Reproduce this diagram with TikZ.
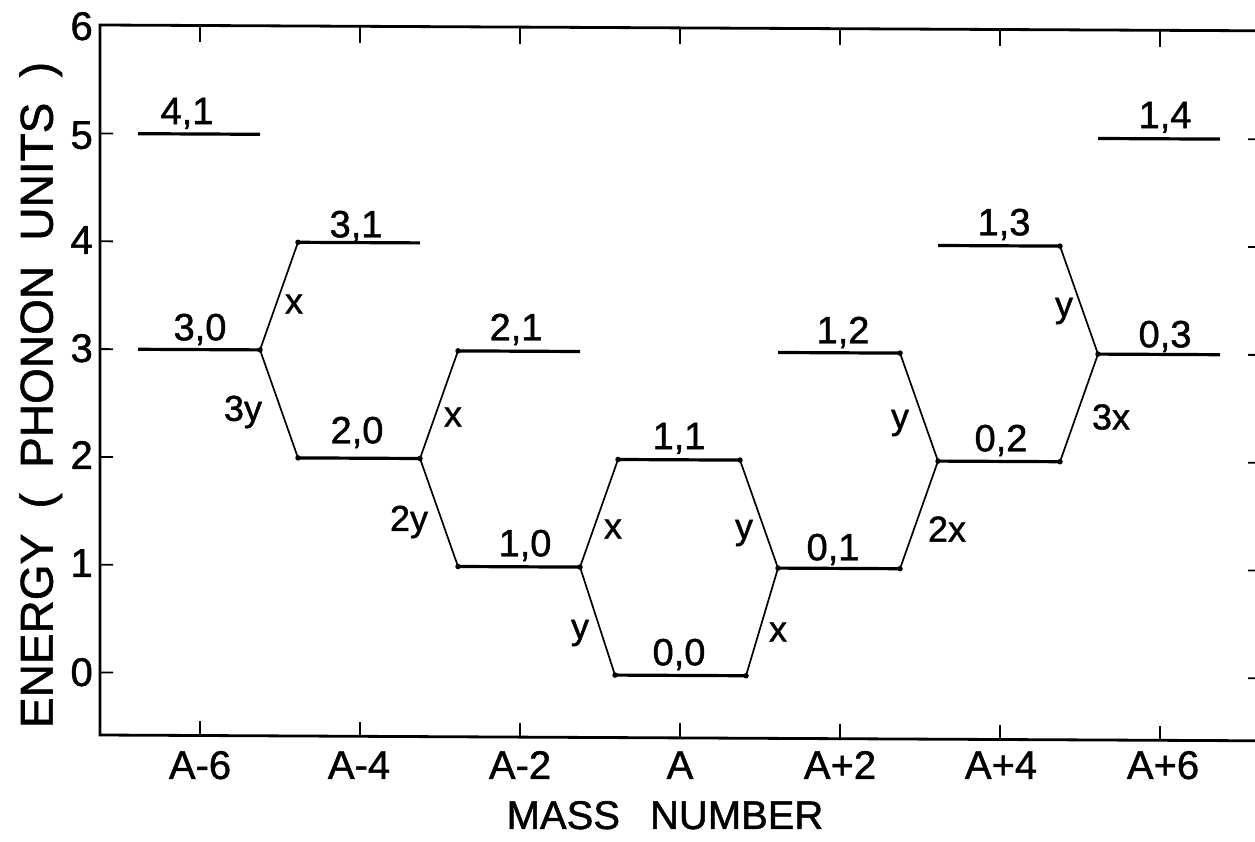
\documentclass[tikz,border=0pt]{standalone}
\usepackage{fontspec}
\setmainfont{Liberation Sans}[FakeBold=1.2]
\begin{document}
\begin{tikzpicture}[x=1pt,y=-1pt,
  frame/.style={line width=2.8pt},
  tickmark/.style={line width=1.8pt},
  lvl/.style={line width=3.2pt},
  conn/.style={line width=1.7pt},
  jdot/.style={circle, fill=black, inner sep=0pt, minimum size=5.5pt},
  lvllab/.style={font=\fontsize{38}{40}\selectfont, inner sep=0pt, text depth=0pt},
  clab/.style={font=\fontsize{36}{40}\selectfont, inner sep=0pt},
  ticklab/.style={font=\fontsize{40}{44}\selectfont, inner sep=0pt, text depth=0pt},
  axlab/.style={inner sep=0pt, text depth=0pt}]
\useasboundingbox[fill=white] (0,0) rectangle (1255,842);

\begin{scope}[cm={1,-0.005,0,1,(0,0)}]
  % frame
  \draw[frame] (1262,24.5) -- (100,24.5) -- (100,734.5) -- (1262,734.5) -- cycle;
  % energy ticks (left and right)
  \foreach \e in {0,...,5} {
    \draw[tickmark] (100,{672-107.8*\e}) -- (113,{672-107.8*\e});
    \draw[tickmark] (1248,{672-107.8*\e}) -- (1262,{672-107.8*\e});
  }
  % mass ticks (bottom and top)
  \foreach \m in {-6,-4,...,6} {
    \draw[tickmark] ({680+80*\m},734.5) -- ({680+80*\m},720);
    \draw[tickmark] ({680+80*\m},24.5) -- ({680+80*\m},41);
  }
  % levels
  \foreach \n/\m/\e in {41/-6/5, 30/-6/3, 31/-4/4, 20/-4/2, 21/-2/3, 10/-2/1,
                        11/0/2, 00/0/0, 12/2/3, 01/2/1, 13/4/4, 02/4/2, 14/6/5, 03/6/3} {
    \coordinate (L\n) at ({680+80*\m-62},{672-107.8*\e});
    \coordinate (R\n) at ({680+80*\m+60},{672-107.8*\e});
  }
  \coordinate (L00) at (615,672);
  \coordinate (R00) at (746,672);
  \foreach \n in {41,30,31,20,21,10,11,00,12,01,13,02,14,03}
    \draw[lvl] (L\n) -- (R\n);
  % connectors
  \draw[conn] (R30) -- (L31);
  \draw[conn] (R30) -- (L20);
  \draw[conn] (R20) -- (L21);
  \draw[conn] (R20) -- (L10);
  \draw[conn] (R10) -- (L11);
  \draw[conn] (R10) -- (L00);
  \draw[conn] (R11) -- (L01);
  \draw[conn] (R00) -- (L01);
  \draw[conn] (R12) -- (L02);
  \draw[conn] (R01) -- (L02);
  \draw[conn] (R02) -- (L03);
  \draw[conn] (R13) -- (L03);
  % junction dots
  \foreach \p in {R30,L31,L20,R20,L21,L10,R10,L11,L00,R11,R00,L01,R12,R01,L02,R02,L03,R13}
    \node[jdot] (d\p) at (\p) {};
\end{scope}

% level labels
\node[lvllab] (t41) at (187,111) {4,1};
\node[lvllab] (t30) at (200,327) {3,0};
\node[lvllab] (t31) at (356,224) {3,1};
\node[lvllab] (t20) at (357,430) {2,0};
\node[lvllab] (t21) at (516,327) {2,1};
\node[lvllab] (t10) at (525,543) {1,0};
\node[lvllab] (t11) at (679,436) {1,1};
\node[lvllab] (t00) at (679,652) {0,0};
\node[lvllab] (t12) at (843,330) {1,2};
\node[lvllab] (t01) at (833,547) {0,1};
\node[lvllab] (t13) at (1004,222) {1,3};
\node[lvllab] (t02) at (1001,438) {0,2};
\node[lvllab] (t14) at (1165,115) {1,4};
\node[lvllab] (t03) at (1165,334) {0,3};

% connector labels
\node[clab] (c1) at (294,304) {x};
\node[clab] (c2) at (243,412) {3y};
\node[clab] (c3) at (453,417) {x};
\node[clab] (c4) at (409,522) {2y};
\node[clab] (c5) at (613,529) {x};
\node[clab] (c6) at (580,633) {y};
\node[clab] (c7) at (744,533) {y};
\node[clab] (c8) at (778,632) {x};
\node[clab] (c9) at (900,423) {y};
\node[clab] (c10) at (947,529) {2x};
\node[clab] (c11) at (1111,417) {3x};
\node[clab] (c12) at (1064,311) {y};

% energy tick labels
\node[ticklab, anchor=east] (e6) at (93,26) {6};
\node[ticklab, anchor=east] (e5) at (93,135) {5};
\node[ticklab, anchor=east] (e4) at (93,240) {4};
\node[ticklab, anchor=east] (e3) at (93,348) {3};
\node[ticklab, anchor=east] (e2) at (93,455) {2};
\node[ticklab, anchor=east] (e1) at (93,563) {1};
\node[ticklab, anchor=east] (e0) at (93,672) {0};

% mass tick labels
\node[ticklab] (m1) at (200,765) {A-6};
\node[ticklab] (m2) at (359,765) {A-4};
\node[ticklab] (m3) at (520,765) {A-2};
\node[ticklab] (m4) at (680,765) {A};
\node[ticklab] (m5) at (840,765) {A+2};
\node[ticklab] (m6) at (1001,765) {A+4};
\node[ticklab] (m7) at (1163,765) {A+6};

% axis titles
\node[axlab, font=\fontsize{40}{44}\selectfont] (xt) at (665,815) {MASS\hspace{0.75em}NUMBER};
\node[axlab, rotate=90, font=\fontsize{46}{50}\selectfont] (yt) at (36,395)
  {ENERGY\hspace{0.55em}(\hspace{0.55em}PHONON\hspace{0.55em}UNITS\hspace{0.55em})};
\end{tikzpicture}
\end{document}
